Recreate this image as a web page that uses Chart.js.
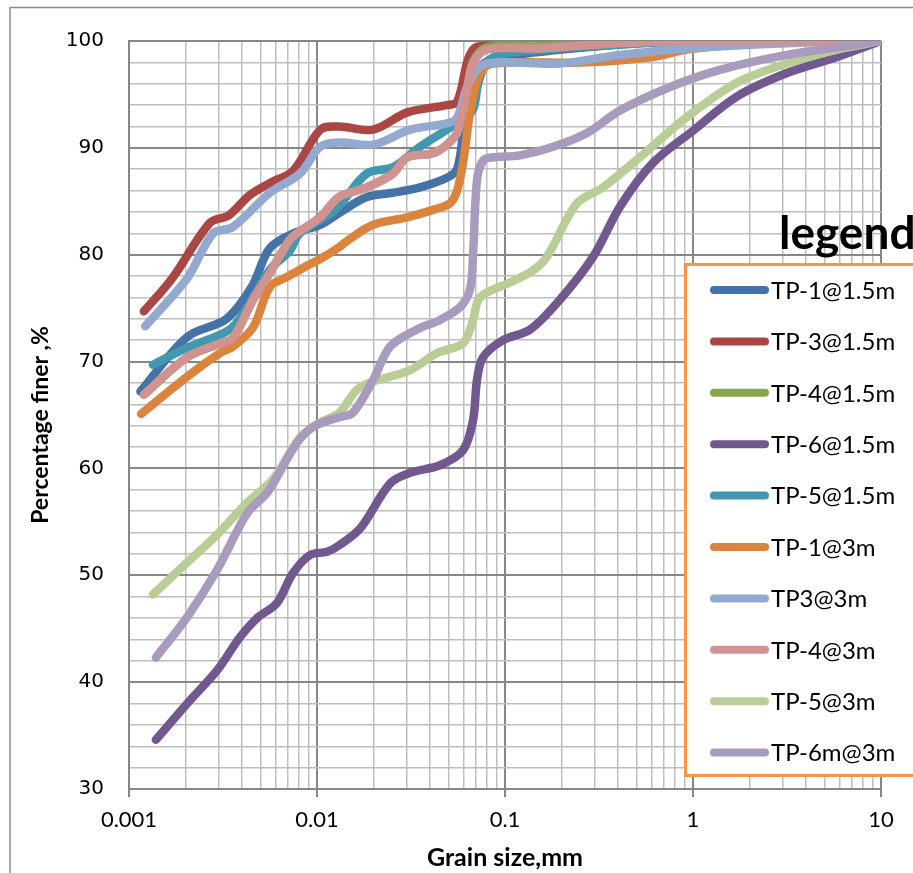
<!DOCTYPE html>
<html>
<head>
<meta charset="utf-8">
<title>Grain size distribution</title>
<script src="https://cdn.jsdelivr.net/npm/chart.js@4.4.0/dist/chart.umd.min.js"></script>
<style>
    html, body { margin: 0; padding: 0; background: #fff; }
    #chartWrap { width: 913px; height: 873px; }
</style>
</head>
<body>
<div id="chartWrap"><canvas id="gradationChart" width="913" height="873"></canvas></div>
<script>
// Series labels and colours (legend order)
const seriesNames = ["TP-1@1.5m", "TP-3@1.5m", "TP-4@1.5m", "TP-6@1.5m", "TP-5@1.5m",
                     "TP-1@3m", "TP3@3m", "TP-4@3m", "TP-5@3m", "TP-6m@3m"];
const seriesColors = ["#4572A7", "#AA4643", "#89A54E", "#71588F", "#4198AF",
                      "#DB843D", "#93A9CF", "#D19392", "#B9CD96", "#A99BBD"];

// Grain size (mm) / percentage finer (%)
const tp1_15_size = [0.00115, 0.00204, 0.0033, 0.0045, 0.0056, 0.0075, 0.0104, 0.0131, 0.0184, 0.0254, 0.0353, 0.0491, 0.0556, 0.06, 0.0652, 0.074, 0.09, 0.2, 0.5, 1, 10];
const tp1_15_pct  = [67.2, 72.3, 74.0, 77.0, 80.6, 82.0, 82.8, 83.9, 85.4, 85.8, 86.3, 87.2, 88.0, 91.5, 95.4, 97.6, 98.4, 99.2, 99.8, 100, 100];

const tp3_15_size = [0.0012, 0.0017, 0.0027, 0.0034, 0.0044, 0.0056, 0.0075, 0.0104, 0.0131, 0.0199, 0.030, 0.049, 0.0556, 0.0676, 0.0935, 0.196, 0.41, 1, 10];
const tp3_15_pct  = [74.7, 77.8, 83.0, 83.7, 85.6, 86.7, 87.9, 91.7, 92.0, 91.7, 93.3, 94.0, 94.3, 99.2, 99.5, 99.3, 99.8, 100, 100];

const tp4_15_size = [0.0012, 0.00204, 0.00305, 0.00357, 0.00457, 0.00562, 0.00659, 0.00745, 0.0104, 0.0131, 0.0184, 0.0254, 0.030, 0.0414, 0.0491, 0.0556, 0.0628, 0.0676, 0.080, 0.15, 0.4, 1, 10];
const tp4_15_pct  = [66.9, 70.4, 71.7, 72.2, 75.8, 78.3, 80.4, 81.7, 83.5, 85.4, 86.3, 87.6, 89.1, 89.5, 90.3, 91.4, 95.4, 98.1, 99.4, 99.5, 99.9, 100, 100];

const tp6_15_size = [0.00139, 0.00204, 0.00294, 0.00389, 0.0048, 0.00612, 0.00745, 0.00918, 0.0113, 0.0131, 0.017, 0.0245, 0.0313, 0.0451, 0.0598, 0.0676, 0.071, 0.0764, 0.0976, 0.136, 0.196, 0.294, 0.409, 0.613, 1.0, 1.71, 3.16, 5.83, 10];
const tp6_15_pct  = [34.6, 38.0, 41.1, 44.2, 46.0, 47.4, 50.2, 51.9, 52.2, 52.8, 54.4, 58.6, 59.6, 60.3, 61.7, 64.5, 68.3, 70.4, 72.0, 73.0, 75.8, 79.8, 84.5, 88.6, 91.6, 94.8, 97.0, 98.5, 100];

const tp5_15_size = [0.00134, 0.00204, 0.00344, 0.00425, 0.00562, 0.00718, 0.0081, 0.0125, 0.0184, 0.0254, 0.0353, 0.0491, 0.058, 0.0676, 0.072, 0.08, 0.1, 0.3, 1, 10];
const tp5_15_pct  = [69.7, 71.3, 73.0, 75.1, 78.6, 80.4, 82.0, 84.2, 87.6, 88.2, 90.1, 91.7, 92.5, 93.6, 96.0, 98.0, 98.8, 99.5, 100, 100];

const tp1_3_size = [0.00116, 0.00204, 0.00305, 0.00357, 0.00457, 0.00562, 0.0069, 0.0089, 0.0104, 0.0131, 0.015, 0.0199, 0.0301, 0.0414, 0.0509, 0.0556, 0.0598, 0.0652, 0.0736, 0.0863, 0.273, 0.612, 0.93, 2.08, 10];
const tp1_3_pct  = [65.1, 68.6, 70.8, 71.4, 73.2, 77.0, 77.9, 79.0, 79.6, 80.7, 81.5, 82.8, 83.5, 84.2, 84.8, 86.0, 88.6, 93.3, 97.0, 97.9, 98.0, 98.5, 99.2, 99.8, 100];

const tp3_3_size = [0.00122, 0.00204, 0.0028, 0.00357, 0.00562, 0.00813, 0.0104, 0.0131, 0.0199, 0.0313, 0.0491, 0.0556, 0.0628, 0.0736, 0.0935, 0.196, 0.409, 0.93, 3.16, 10];
const tp3_3_pct  = [73.3, 77.8, 82.0, 82.6, 85.8, 87.6, 90.1, 90.5, 90.3, 91.7, 92.3, 92.8, 95.7, 97.6, 98.0, 97.9, 98.7, 99.3, 99.8, 100];

const tp4_3_size = [0.0012, 0.00204, 0.00305, 0.00357, 0.00457, 0.00562, 0.00659, 0.00745, 0.0104, 0.0131, 0.0184, 0.0254, 0.030, 0.0414, 0.0491, 0.0556, 0.0628, 0.0676, 0.080, 0.15, 0.4, 1, 10];
const tp4_3_pct  = [66.9, 70.4, 71.7, 72.2, 75.8, 78.3, 80.4, 81.7, 83.5, 85.4, 86.3, 87.6, 89.1, 89.5, 90.3, 91.4, 95.4, 97.9, 99.2, 99.3, 99.8, 100, 100];

const tp5_3_size = [0.00134, 0.00204, 0.00294, 0.00425, 0.00584, 0.00813, 0.0104, 0.0131, 0.017, 0.0313, 0.0435, 0.0598, 0.0676, 0.0736, 0.106, 0.14, 0.167, 0.241, 0.332, 0.504, 0.93, 1.71, 3.16, 5.83, 10];
const tp5_3_pct  = [48.2, 51.2, 53.8, 56.8, 59.0, 62.9, 64.3, 65.2, 67.6, 69.2, 70.8, 71.7, 73.9, 76.0, 77.4, 78.5, 79.8, 84.8, 86.3, 88.9, 92.9, 96.1, 97.9, 99.2, 100];

const tp6_3_size = [0.00139, 0.00204, 0.00294, 0.00425, 0.00542, 0.00612, 0.00783, 0.00953, 0.0131, 0.0155, 0.0199, 0.0245, 0.034, 0.0451, 0.0577, 0.0652, 0.0676, 0.071, 0.0764, 0.085, 0.12, 0.18, 0.273, 0.409, 0.755, 1.39, 3.16, 7.1, 10];
const tp6_3_pct  = [42.3, 46.1, 50.5, 55.8, 57.7, 59.2, 62.4, 63.9, 64.8, 65.2, 68.3, 71.4, 73.0, 73.9, 75.1, 76.8, 80.0, 87.0, 88.8, 89.1, 89.3, 90.1, 91.4, 93.5, 95.7, 97.3, 98.7, 99.6, 100];

// Axis ticks
const xDecades = [0.001, 0.01, 0.1, 1, 10];
const xTickLabels = ["0.001", "0.01", "0.1", "1", "10"];
const yMin = 30, yMax = 100, yStep = 2, yLabelStep = 10;

const seriesSizes = [tp1_15_size, tp3_15_size, tp4_15_size, tp6_15_size, tp5_15_size,
                     tp1_3_size, tp3_3_size, tp4_3_size, tp5_3_size, tp6_3_size];
const seriesPcts = [tp1_15_pct, tp3_15_pct, tp4_15_pct, tp6_15_pct, tp5_15_pct,
                    tp1_3_pct, tp3_3_pct, tp4_3_pct, tp5_3_pct, tp6_3_pct];

const majorGrid = "#878787";
const minorGrid = "#BEBEBE";

// gridline positions on the log axis: 1..9 in every decade
const xGridValues = [];
xDecades.forEach((d, i) => {
    if (i === xDecades.length - 1) { xGridValues.push(d); return; }
    for (let m = 1; m <= 9; m++) xGridValues.push(parseFloat((d * m).toPrecision(6)));
});

function isDecade(v) {
    const l = Math.log10(v);
    return Math.abs(l - Math.round(l)) < 1e-6;
}

const datasets = seriesNames.map((name, i) => ({
    label: name,
    data: seriesSizes[i].map((s, k) => ({ x: s, y: seriesPcts[i][k] })),
    borderColor: seriesColors[i],
    backgroundColor: seriesColors[i],
    borderWidth: 8.5,
    borderCapStyle: "round",
    borderJoinStyle: "round",
    pointRadius: 0,
    tension: 0.33,
    fill: false,
    // later series sit on top, like the original spreadsheet chart
    order: seriesNames.length - 1 - i
}));

// white background, outer frame, axis titles and boxed legend
const decorPlugin = {
    id: "decor",
    beforeDraw(chart) {
        const ctx = chart.ctx;
        ctx.save();
        ctx.fillStyle = "#fff";
        ctx.fillRect(0, 0, chart.width, chart.height);
        ctx.strokeStyle = "#8C8C8C";
        ctx.lineWidth = 1.5;
        ctx.strokeRect(10, 7.5, chart.width + 20, chart.height + 20);
        ctx.restore();
    },
    afterDraw(chart) {
        const ctx = chart.ctx;
        ctx.save();

        // axis titles
        ctx.fillStyle = "#000";
        ctx.font = "bold 25px Lato";
        ctx.textAlign = "center";
        ctx.textBaseline = "middle";
        ctx.fillText("Grain size,mm", 505, 858);
        ctx.font = "bold 23px Lato";
        ctx.translate(41, 425);
        ctx.rotate(-Math.PI / 2);
        ctx.fillText("Percentage finer ,%", 0, 0);
        ctx.setTransform(1, 0, 0, 1, 0, 0);

        // legend box
        ctx.fillStyle = "#fff";
        ctx.fillRect(684, 263, 260, 514);
        ctx.strokeStyle = "#F79646";
        ctx.lineWidth = 3;
        ctx.strokeRect(685.5, 264.5, 260, 511);

        ctx.fillStyle = "#000";
        ctx.font = "bold 46px Lato";
        ctx.textAlign = "left";
        ctx.textBaseline = "alphabetic";
        ctx.fillText("legend", 779, 249);

        ctx.font = "24px Lato";
        ctx.textBaseline = "middle";
        chart.data.datasets.forEach((ds, i) => {
            const y = 290 + i * 51.4;
            ctx.strokeStyle = ds.borderColor;
            ctx.lineWidth = 8;
            ctx.lineCap = "round";
            ctx.beginPath();
            ctx.moveTo(714, y);
            ctx.lineTo(765, y);
            ctx.stroke();
            ctx.fillStyle = "#000";
            ctx.fillText(ds.label, 771, y + 1);
        });
        ctx.restore();
    }
};

const ctx = document.getElementById("gradationChart");
const gradationChart = new Chart(ctx, {
    type: "line",
    data: { datasets: datasets },
    plugins: [decorPlugin],
    options: {
        responsive: false,
        animation: false,
        events: [],
        layout: {
            padding: { left: 0, right: 32, top: 41, bottom: 0 }
        },
        scales: {
            x: {
                type: "logarithmic",
                min: 0.001,
                max: 10,
                afterBuildTicks: scale => {
                    scale.ticks = xGridValues.map(v => ({ value: v }));
                },
                afterFit: scale => { scale.height = 84; },
                ticks: {
                    autoSkip: false,
                    maxRotation: 0,
                    minRotation: 0,
                    padding: 10,
                    color: "#000",
                    font: { family: "Lato", size: 22 },
                    callback: function(value) {
                        const idx = xDecades.findIndex(d => Math.abs(d - value) < d * 1e-6);
                        return idx >= 0 ? xTickLabels[idx] : "";
                    }
                },
                grid: {
                    color: c => (c.tick && isDecade(c.tick.value)) ? majorGrid : minorGrid,
                    lineWidth: c => (c.tick && isDecade(c.tick.value)) ? 2 : 1.5,
                    tickLength: 8,
                    tickColor: c => (c.tick && isDecade(c.tick.value)) ? majorGrid : "rgba(0,0,0,0)",
                    tickWidth: 2
                },
                border: { color: majorGrid, width: 2 }
            },
            y: {
                type: "linear",
                min: yMin,
                max: yMax,
                afterFit: scale => { scale.width = 129; },
                ticks: {
                    stepSize: yStep,
                    autoSkip: false,
                    padding: 25,
                    color: "#000",
                    font: { family: "DejaVu Sans", size: 20 },
                    callback: v => (v % yLabelStep === 0 ? v : "")
                },
                grid: {
                    color: c => (c.tick && c.tick.value % yLabelStep === 0) ? majorGrid : minorGrid,
                    lineWidth: c => (c.tick && c.tick.value % yLabelStep === 0) ? 2 : 1.5,
                    drawTicks: false
                },
                border: { color: majorGrid, width: 2 }
            }
        },
        plugins: {
            legend: { display: false },
            tooltip: { enabled: false }
        }
    }
});
</script>
</body>
</html>
